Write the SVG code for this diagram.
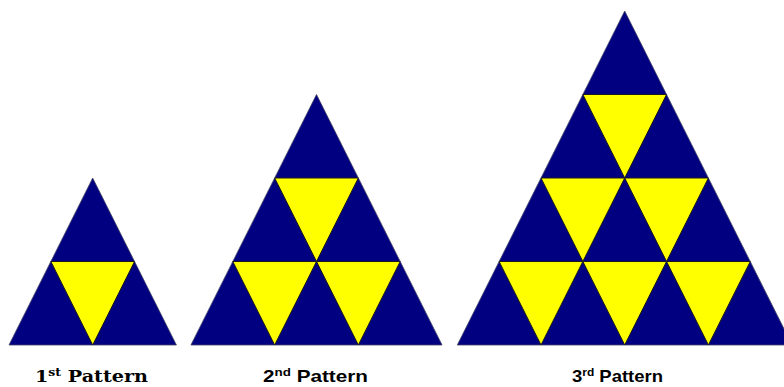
<svg xmlns="http://www.w3.org/2000/svg" width="784" height="387" viewBox="0 0 784 387">
<style>
.big{fill:#000080;stroke:#444466;stroke-width:0.8;stroke-linejoin:miter}
.y{fill:#ffff00;stroke:#1a1a1a;stroke-width:1}
.lbl1{font-family:"DejaVu Serif","Liberation Serif",serif;font-weight:bold;font-size:17px;fill:#000}
.lbl2{font-family:"Liberation Sans",Arial,sans-serif;font-weight:bold;font-size:17px;fill:#000}
.sup{font-size:11px}
</style>
<rect width="784" height="387" fill="#ffffff"/>
<g id="pattern1">
<polygon class="big" points="92.7,178 176.4,345 9,345"/>
<polygon class="y" points="50.85,261.5 134.55,261.5 92.7,345"/>
</g>
<g id="pattern2">
<polygon class="big" points="316.5,94.5 442.05,345 190.95,345"/>
<polygon class="y" points="274.65,178 358.35,178 316.5,261.5"/>
<polygon class="y" points="232.8,261.5 316.5,261.5 274.65,345"/>
<polygon class="y" points="316.5,261.5 400.2,261.5 358.35,345"/>
</g>
<g id="pattern3">
<polygon class="big" points="624.7,11 792.1,345 457.3,345"/>
<polygon class="y" points="582.85,94.5 666.55,94.5 624.7,178"/>
<polygon class="y" points="541,178 624.7,178 582.85,261.5"/>
<polygon class="y" points="624.7,178 708.4,178 666.55,261.5"/>
<polygon class="y" points="499.15,261.5 582.85,261.5 541,345"/>
<polygon class="y" points="582.85,261.5 666.55,261.5 624.7,345"/>
<polygon class="y" points="666.55,261.5 750.25,261.5 708.4,345"/>
</g>
<g id="labels">
<text id="label1" class="lbl1" x="35" y="381.5" textLength="113" lengthAdjust="spacingAndGlyphs">1<tspan class="sup" dy="-6">st</tspan><tspan dy="6"> Pattern</tspan></text>
<text id="label2" class="lbl2" x="263" y="382" textLength="105" lengthAdjust="spacingAndGlyphs">2<tspan class="sup" dy="-6">nd</tspan><tspan dy="6"> Pattern</tspan></text>
<text id="label3" class="lbl2" x="572" y="382" textLength="91" lengthAdjust="spacingAndGlyphs">3<tspan class="sup" dy="-6">rd</tspan><tspan dy="6"> Pattern</tspan></text>
</g>
</svg>
